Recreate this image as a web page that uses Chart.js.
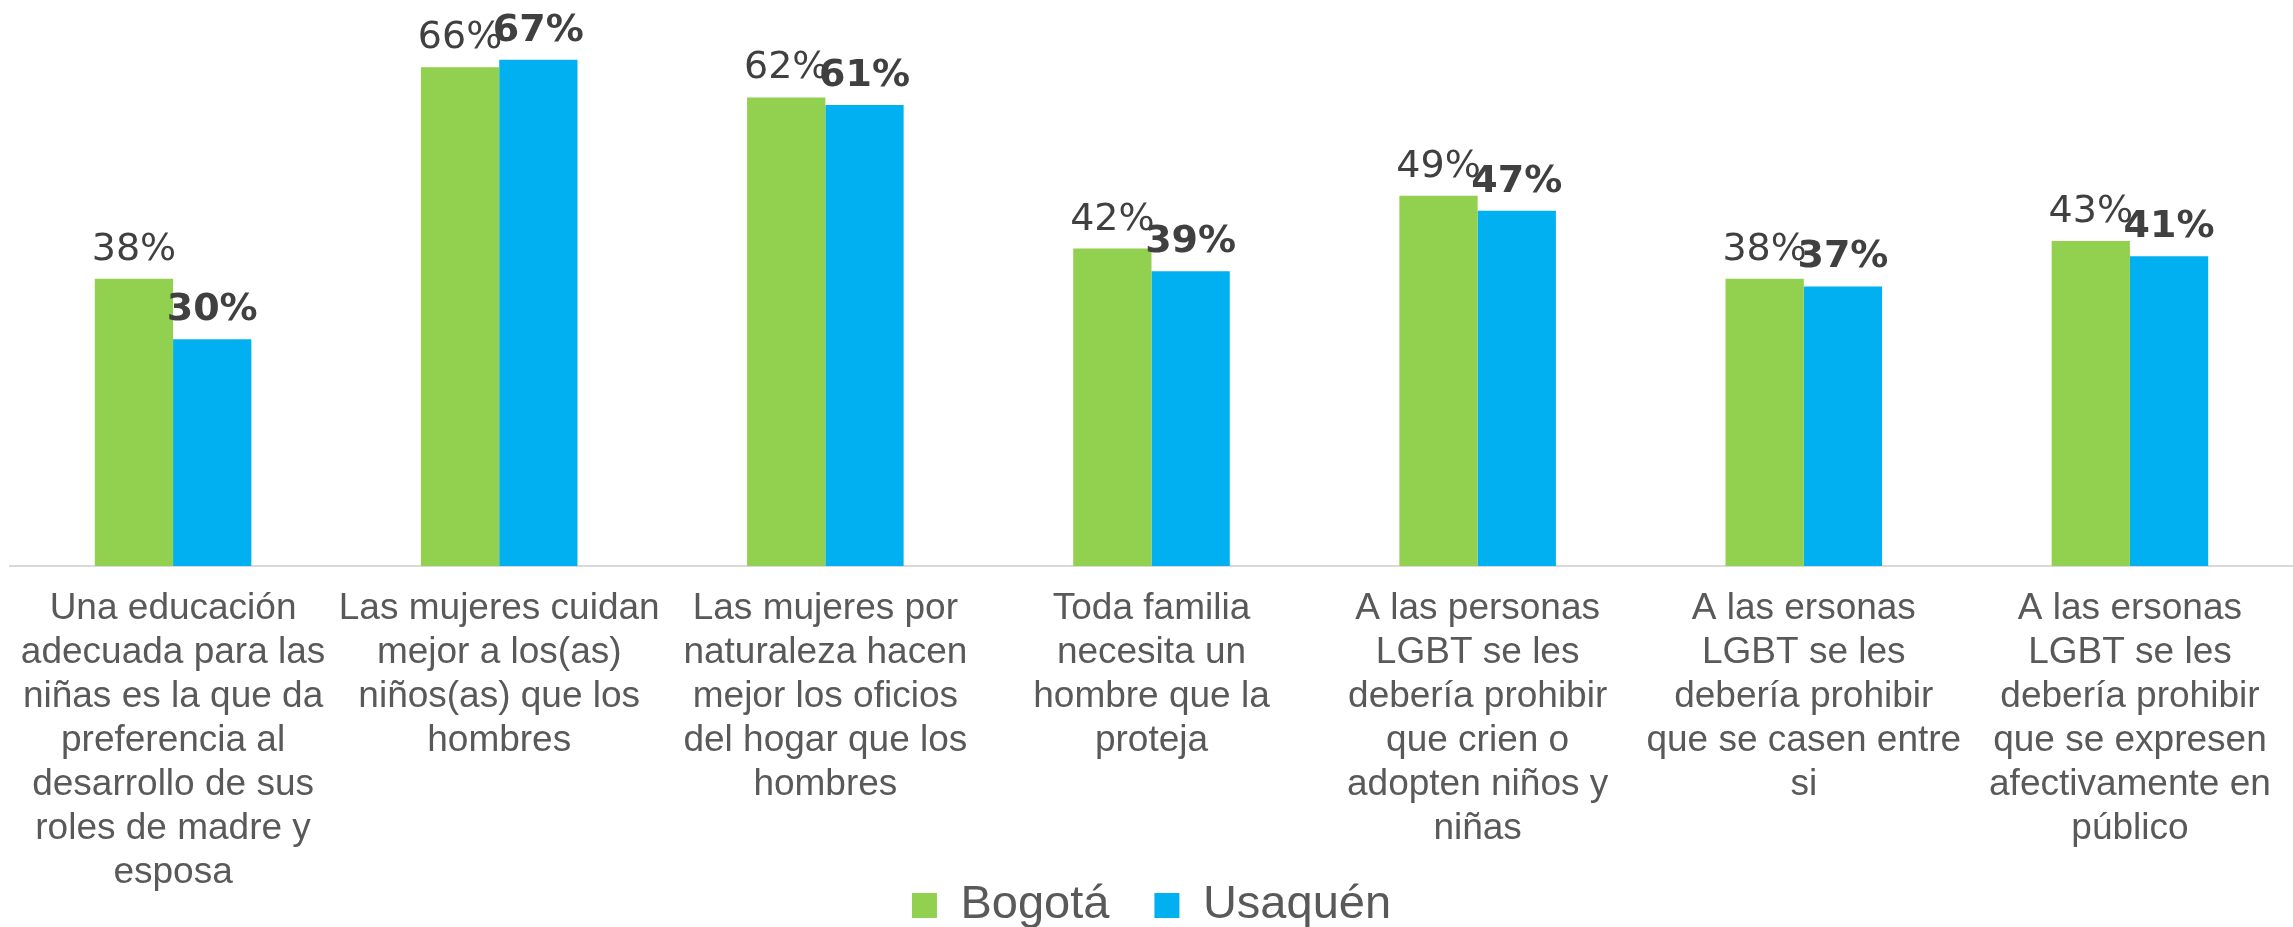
<!DOCTYPE html>
<html>
<head>
<meta charset="utf-8">
<script src="https://cdn.jsdelivr.net/npm/chart.js@4"></script>
<style>
  html, body { margin: 0; padding: 0; background: #ffffff; }
  #wrap { width: 2293px; height: 927px; }
</style>
</head>
<body>
<div id="wrap"><canvas id="c" width="2293" height="927"></canvas></div>
<script>
const categories = [
  ["Una educación", "adecuada para las", "niñas es la que da", "preferencia al", "desarrollo de sus", "roles de madre y", "esposa"],
  ["Las mujeres cuidan", "mejor a los(as)", "niños(as) que los", "hombres"],
  ["Las mujeres por", "naturaleza hacen", "mejor los oficios", "del hogar que los", "hombres"],
  ["Toda familia", "necesita un", "hombre que la", "proteja"],
  ["A las personas", "LGBT se les", "debería prohibir", "que crien o", "adopten niños y", "niñas"],
  ["A las ersonas", "LGBT se les", "debería prohibir", "que se casen entre", "si"],
  ["A las ersonas", "LGBT se les", "debería prohibir", "que se expresen", "afectivamente en", "público"]
];
const seriesNames = ["Bogotá", "Usaquén"];
const bogota = [38, 66, 62, 42, 49, 38, 43];
const usaquen = [30, 67, 61, 39, 47, 37, 41];
const yMin = 0;
const yMax = 70;

const GREEN = "#92D050";
const BLUE = "#00B0F0";

const valueLabels = {
  id: "valueLabels",
  afterDatasetsDraw(chart) {
    const ctx = chart.ctx;
    ctx.save();
    ctx.textAlign = "center";
    ctx.textBaseline = "alphabetic";
    ctx.fillStyle = "#404040";
    chart.data.datasets.forEach((ds, di) => {
      const meta = chart.getDatasetMeta(di);
      ctx.font = (di === 1 ? "bold " : "") + "38px 'DejaVu Sans'";
      meta.data.forEach((bar, i) => {
        ctx.fillText(ds.data[i] + "%", bar.x, bar.y - 19);
      });
    });
    ctx.restore();
  }
};

// let the category labels run below the axis box (they overlap the legend row in the reference)
const extendLabelArea = {
  id: "extendLabelArea",
  afterLayout(chart) {
    chart.scales.x.bottom = chart.height;
  }
};

new Chart(document.getElementById("c"), {
  type: "bar",
  data: {
    labels: categories,
    datasets: [
      { label: seriesNames[0], data: bogota, backgroundColor: GREEN, borderWidth: 0 },
      { label: seriesNames[1], data: usaquen, backgroundColor: BLUE, borderWidth: 0 }
    ]
  },
  options: {
    responsive: false,
    devicePixelRatio: 1,
    animation: false,
    layout: { padding: { top: 37, left: 10, right: 0, bottom: -12 } },
    datasets: { bar: { categoryPercentage: 0.48, barPercentage: 1.0 } },
    scales: {
      x: {
        grid: { display: false, drawTicks: false },
        border: { display: true, color: "#D9D9D9", width: 2 },
        ticks: {
          autoSkip: false,
          maxRotation: 0,
          minRotation: 0,
          padding: 21,
          color: "#595959",
          font: { family: "'Liberation Sans', Arial, sans-serif", size: 37, lineHeight: 1.19 }
        },
        afterFit(scale) {
          scale.height = 271;
          scale.paddingLeft = 0;
          scale.paddingRight = 0;
        }
      },
      y: {
        display: false,
        min: yMin,
        max: yMax
      }
    },
    plugins: {
      legend: {
        position: "bottom",
        labels: {
          boxWidth: 25,
          boxHeight: 25,
          padding: 45,
          color: "#595959",
          font: { family: "'Liberation Sans', Arial, sans-serif", size: 47 }
        }
      },
      tooltip: { enabled: false }
    }
  },
  plugins: [valueLabels, extendLabelArea]
});
</script>
</body>
</html>
